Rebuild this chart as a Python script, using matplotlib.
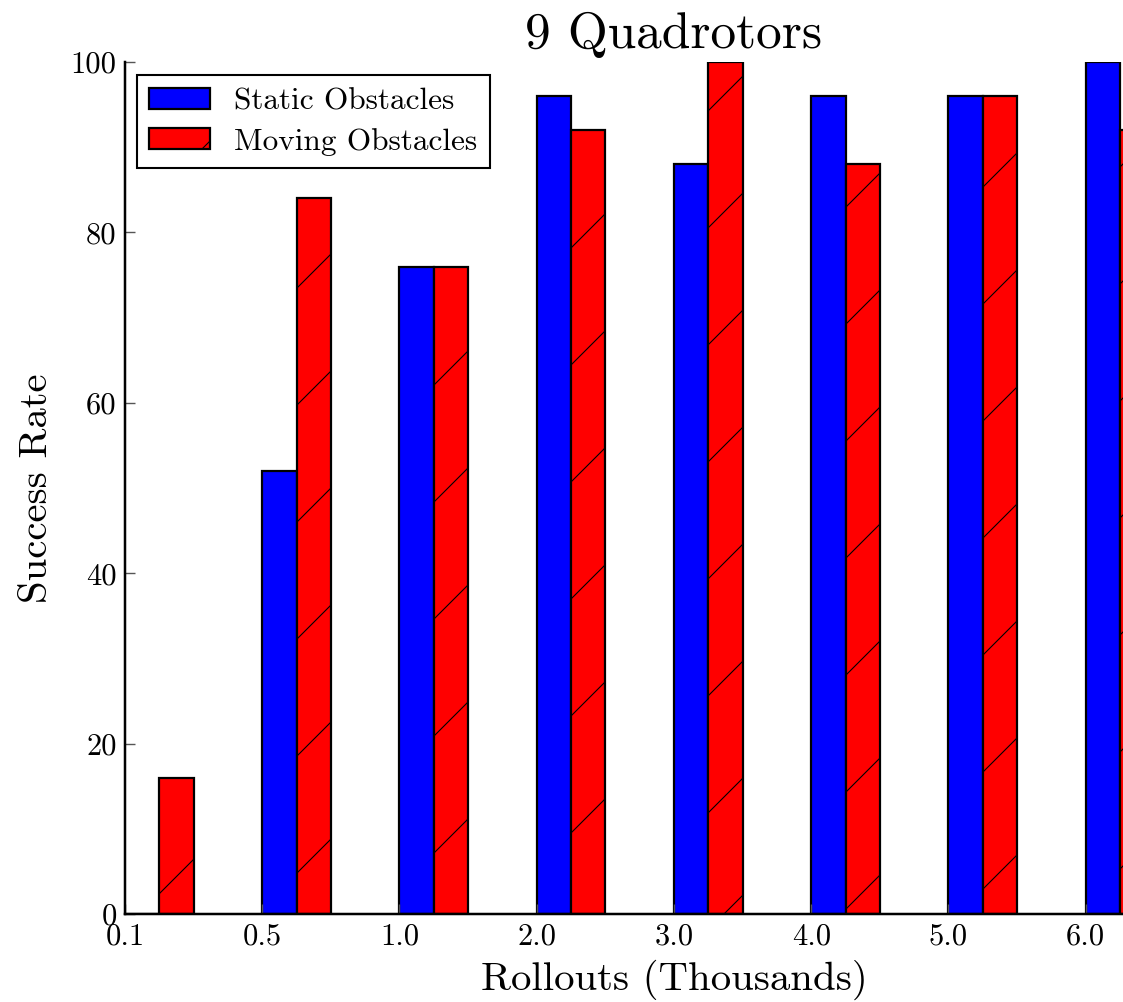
import numpy as np
import matplotlib
matplotlib.use('Agg')
import matplotlib.pyplot as plt
from matplotlib.backend_bases import GraphicsContextBase

# hatch plus espace : 2 lignes par cellule (cellule = DPI pixels)
_orig_hatch = GraphicsContextBase.get_hatch_path
GraphicsContextBase.get_hatch_path = lambda self, density=6.0: _orig_hatch(self, density=2.0)

DPI = 117
K = 100 / DPI  # tailles ecrites pour 100 dpi

plt.rcParams['font.family'] = ['cmr10', 'DejaVu Serif']
plt.rcParams['hatch.linewidth'] = 0.8 * K

# Donnees
categories = ['0.1', '0.5', '1.0', '2.0', '3.0', '4.0', '5.0', '6.0']
static_obstacles = [0, 52, 76, 96, 88, 96, 96, 100]
moving_obstacles = [16, 84, 76, 92, 100, 88, 96, 92]
yticks = [0, 20, 40, 60, 80, 100]

x = np.arange(len(categories))
width = 0.25

fig = plt.figure(figsize=(1123 / DPI, 1002 / DPI), dpi=DPI)
# l'axe depasse a droite de l'image (figure rognee dans l'original)
ax = fig.add_axes([0.1113, 0.0878, 0.9777, 0.8503])

ax.bar(x, static_obstacles, width, align='edge', color='#0000ff',
       edgecolor='black', linewidth=1.6 * K, label='Static Obstacles')
ax.bar(x + width, moving_obstacles, width, align='edge', color='#ff0000',
       edgecolor='black', linewidth=1.6 * K, hatch='/', label='Moving Obstacles')

ax.set_xlim(0, 8)
ax.set_ylim(0, 100)
ax.set_xticks(x)
ax.set_xticklabels(categories)
ax.set_yticks(yticks)
ax.set_yticklabels([str(v) for v in yticks])

for s in ['top', 'right']:
    ax.spines[s].set_visible(False)
for s in ['left', 'bottom']:
    ax.spines[s].set_linewidth(1.8 * K)
ax.tick_params(direction='in', length=7 * K, width=1 * K, color='#555555',
               labelsize=22 * K, top=False, right=False, pad=6 * K)

ax.set_title('9 Quadrotors', fontsize=37 * K, pad=10 * K)
ax.set_xlabel('Rollouts (Thousands)', fontsize=29.4 * K, labelpad=7 * K)
ax.set_ylabel('Success Rate', fontsize=29.4 * K, labelpad=11 * K)

leg = ax.legend(loc='upper left', fontsize=22.5 * K, fancybox=False, framealpha=1,
                edgecolor='black', handlelength=1.95, handleheight=0.68,
                borderpad=0.4, labelspacing=0.4, handletextpad=0.75,
                borderaxespad=0, bbox_to_anchor=(0.0109, 0.9847))
leg.get_frame().set_linewidth(1.5 * K)

fig.savefig('out.png', dpi=DPI)
